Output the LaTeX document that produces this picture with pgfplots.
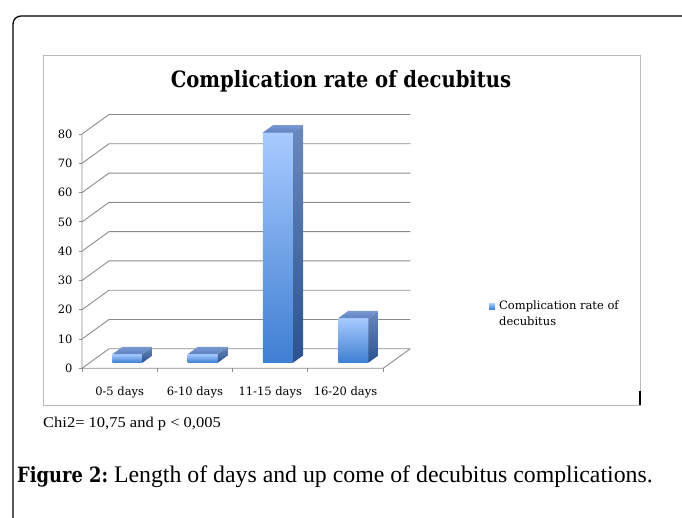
\documentclass[border=0pt]{standalone}
\usepackage{fontspec}
\usepackage{pgfplots}
\usepackage{pgfplotstable}
\pgfplotsset{compat=1.18}
\setmainfont{Liberation Serif}
\newfontfamily\chartfont{DejaVu Serif}
\newfontfamily\titlefont[FakeStretch=0.87]{DejaVu Serif}
\newfontfamily\capboldfont[FakeStretch=0.85]{DejaVu Serif}
\newfontfamily\timesfont{Liberation Serif}
\newfontfamily\timeswide[FakeStretch=1.1]{Liberation Serif}

\definecolor{gridgray}{HTML}{8C8C8C}
\definecolor{framegray}{HTML}{BBBBBB}
\definecolor{frontTop}{HTML}{A8CBFF}
\definecolor{frontBot}{HTML}{3E7ED2}
\definecolor{sideTop}{HTML}{6A89BD}
\definecolor{sideBot}{HTML}{2B528F}
\definecolor{topTop}{HTML}{7A98D2}
\definecolor{topBot}{HTML}{5F82C2}
\definecolor{legblue}{HTML}{6C9BE6}

\pgfplotstableread{
x y
0.5 2.9
1.5 2.9
2.5 78.6
3.5 15.2
}\decubitus

\pgfplotsset{frontbar/.style={ybar, bar width=0.4, bar shift=0pt, draw=none,
  top color=frontTop, bottom color=frontBot}}

\begin{document}
\begin{tikzpicture}
\useasboundingbox (0,0) rectangle (682pt,518pt);
\clip (0,0) rectangle (682pt,518pt);
% outer frame (only top-left part visible)
\draw[line width=1.3pt, rounded corners=8pt] (13pt,-5pt) -- (13pt,502pt) -- (690pt,502pt);
% chart frame
\draw[framegray, line width=0.9pt] (43pt,113pt) rectangle (640pt,463pt);
\draw[line width=1.2pt] (640pt,127pt) -- (640pt,113pt);
% title
\node[font=\titlefont\bfseries\fontsize{22.5}{26}\selectfont, anchor=base] at (341pt,430pt) {Complication rate of decubitus};

% ---- back walls, floor and ticks (front plane) ----
\begin{axis}[
  at={(82pt,149.7pt)}, anchor=south west,
  scale only axis, width=328.2pt, height=253.8pt,
  xmin=0, xmax=4.3586, ymin=0, ymax=86.66,
  axis lines*=left, axis line style={draw=none},
  clip=false,
  xtick={0.5,1.5,2.5,3.5},
  xticklabels={0-5 days,6-10 days,11-15 days,16-20 days},
  xtick style={draw=none},
  xticklabel style={anchor=base, yshift=-24pt},
  ytick={0,10,...,80},
  ytick style={draw=gridgray, line width=0.9pt},
  tick align=outside, major tick length=3pt,
  yticklabel style={xshift=-3pt},
  ticklabel style={font=\chartfont\fontsize{11.5}{13}\selectfont},
  /pgf/number format/assume math mode=true,
]
\pgfplotsinvokeforeach{0,10,...,80}{
  \draw[gridgray, line width=0.9pt] (axis cs:0,#1) -- ++(27pt,19.5pt) -- ++(301.3pt,0pt);
}
\draw[gridgray, line width=0.9pt] (axis cs:0,80) -- (axis cs:0,0) -- (axis cs:4,0) -- ++(27pt,19.5pt);
\pgfplotsinvokeforeach{0,1,...,4}{
  \draw[gridgray, line width=0.9pt] (axis cs:#1,0) -- ++(0pt,-4pt);
}
\end{axis}

% ---- bars (plane at mid depth) ----
\begin{axis}[
  at={(89.8pt,155.3pt)}, anchor=south west,
  scale only axis, width=328.2pt, height=253.8pt,
  xmin=0, xmax=4.3586, ymin=0, ymax=86.66,
  hide axis, clip=false,
  legend style={at={(1.2163,0.251)}, anchor=north west, draw=none, fill=none,
    inner sep=0pt, font=\chartfont\fontsize{11.5}{16}\selectfont,
    cells={align=left, anchor=west}},
  legend image code/.code={\fill[legblue] (0pt,5pt) rectangle (6pt,11pt);},
]
% front faces, one path per bar so each gets its own gradient
\addplot[frontbar, restrict x to domain=0.4:0.6] table[x=x,y=y]{\decubitus};
\addlegendentry{\hspace{2pt}Complication rate of\\\hspace{2pt}decubitus}
\addplot[frontbar, forget plot, restrict x to domain=1.4:1.6] table[x=x,y=y]{\decubitus};
\addplot[frontbar, forget plot, restrict x to domain=2.4:2.6] table[x=x,y=y]{\decubitus};
\addplot[frontbar, forget plot, restrict x to domain=3.4:3.6] table[x=x,y=y]{\decubitus};
% side faces
\addplot[draw=none, top color=sideTop, bottom color=sideBot, forget plot] coordinates {(0.7,0) (0.8328,2.49) (0.8328,5.39) (0.7,2.9)} -- cycle;
\addplot[draw=none, top color=sideTop, bottom color=sideBot, forget plot] coordinates {(1.7,0) (1.8328,2.49) (1.8328,5.39) (1.7,2.9)} -- cycle;
\addplot[draw=none, top color=sideTop, bottom color=sideBot, forget plot] coordinates {(2.7,0) (2.8328,2.49) (2.8328,81.09) (2.7,78.6)} -- cycle;
\addplot[draw=none, top color=sideTop, bottom color=sideBot, forget plot] coordinates {(3.7,0) (3.8328,2.49) (3.8328,17.69) (3.7,15.2)} -- cycle;
% top faces
\addplot[draw=none, top color=topTop, bottom color=topBot, forget plot] coordinates {(0.3,2.9) (0.7,2.9) (0.8328,5.39) (0.4328,5.39)} -- cycle;
\addplot[draw=none, top color=topTop, bottom color=topBot, forget plot] coordinates {(1.3,2.9) (1.7,2.9) (1.8328,5.39) (1.4328,5.39)} -- cycle;
\addplot[draw=none, top color=topTop, bottom color=topBot, forget plot] coordinates {(2.3,78.6) (2.7,78.6) (2.8328,81.09) (2.4328,81.09)} -- cycle;
\addplot[draw=none, top color=topTop, bottom color=topBot, forget plot] coordinates {(3.3,15.2) (3.7,15.2) (3.8328,17.69) (3.4328,17.69)} -- cycle;
\end{axis}

% texts below the chart
\node[font=\timeswide\fontsize{15}{18}\selectfont, anchor=base west, inner sep=0pt] at (43pt,90.3pt) {Chi2= 10,75 and p < 0,005};
\node[anchor=base west, inner sep=0pt] at (17pt,35pt) {{\capboldfont\bfseries\fontsize{21}{25}\selectfont Figure 2:}{\timesfont\fontsize{23.8}{28}\selectfont\ Length of days and up come of decubitus complications.}};
\end{tikzpicture}
\end{document}
